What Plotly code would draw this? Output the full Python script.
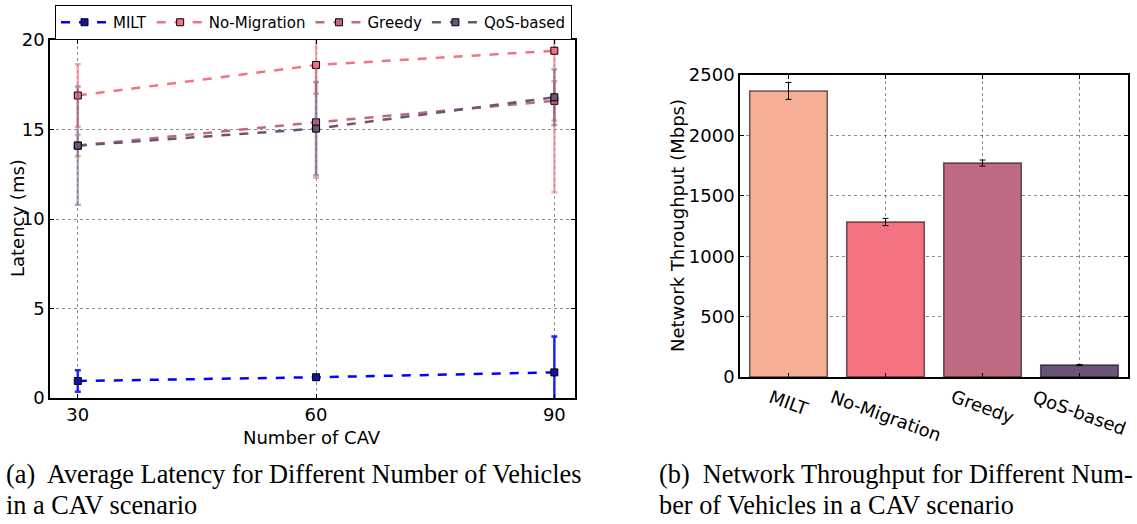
import plotly.graph_objects as go

# ---------------- data ----------------
vehicles = [30, 60, 90]
series_names = ["MILT", "No-Migration", "Greedy", "QoS-based"]

lat_milt = [0.95, 1.16, 1.43]
lat_milt_err = [0.6, 0.1, 2.0]
lat_nomig = [16.9, 18.6, 19.4]
lat_nomig_err = [1.75, 1.6, 7.9]
lat_greedy = [14.1, 15.4, 16.6]
lat_greedy_err = [0.6, 3.1, 1.1]
lat_qos = [14.1, 15.05, 16.8]
lat_qos_err = [3.3, 2.6, 1.55]

thr_values = [2368, 1283, 1771, 99]
thr_err = [70, 30, 25, 5]

latency_ticks = [0, 5, 10, 15, 20]
throughput_ticks = [0, 500, 1000, 1500, 2000, 2500]

latency = [lat_milt, lat_nomig, lat_greedy, lat_qos]
latency_err = [lat_milt_err, lat_nomig_err, lat_greedy_err, lat_qos_err]

line_colors = ["rgb(0,0,255)", "rgb(244,114,129)", "rgb(192,106,129)", "rgb(106,84,121)"]
err_colors = ["rgba(0,0,255,0.85)", "rgba(244,114,129,0.6)", "rgba(192,106,129,0.5)", "rgba(106,84,121,0.5)"]
marker_colors = ["rgb(20,20,160)", "rgb(244,114,129)", "rgb(192,106,129)", "rgb(106,84,121)"]
bar_colors = ["#F6AF94", "#F47281", "#C06A81", "#6A5479"]

FONT = "DejaVu Sans"
FS = 18
W, H = 1137, 524
fig = go.Figure()

for name, ys, es, lc, ec, mc in zip(series_names, latency, latency_err, line_colors, err_colors, marker_colors):
    fig.add_trace(go.Scatter(
        x=vehicles, y=ys, name=name, mode="lines+markers",
        line=dict(color=lc, width=2.5, dash="dash"),
        marker=dict(symbol="square", size=7, color=mc, line=dict(color="black", width=1)),
        error_y=dict(type="data", array=es, color=ec, thickness=2.5, width=3),
        xaxis="x", yaxis="y",
    ))

fig.add_trace(go.Bar(
    x=series_names, y=thr_values, width=0.8, showlegend=False,
    marker=dict(color=bar_colors, line=dict(color="rgba(0,0,0,0.6)", width=1.5)),
    error_y=dict(type="data", array=thr_err, color="black", thickness=1, width=3),
    xaxis="x2", yaxis="y2",
))

# rotated category labels for the bar chart
for cat in series_names:
    fig.add_annotation(x=cat, y=0, xref="x2", yref="y2", text=cat, showarrow=False,
                       textangle=20, xanchor="center", yanchor="top", yshift=-6,
                       font=dict(family=FONT, size=FS, color="black"))

axis_common = dict(showline=True, linecolor="black", linewidth=1.5, mirror="ticks",
                   ticks="inside", ticklen=4, tickcolor="black", automargin=False,
                   showgrid=True, griddash="dot", gridcolor="rgba(0,0,0,0.45)", gridwidth=1,
                   zeroline=False, tickfont=dict(family=FONT, size=FS, color="black"))

fig.update_layout(
    template="none",
    width=W, height=H, margin=dict(l=0, r=0, t=0, b=0, autoexpand=False),
    paper_bgcolor="white", plot_bgcolor="white",
    font=dict(family=FONT, color="black"),
    xaxis=dict(domain=[50 / W, 575 / W], range=[26.5, 92.6], tickvals=vehicles, **axis_common),
    yaxis=dict(domain=[1 - 398 / H, 1 - 40 / H], range=[0, 20], tickvals=latency_ticks, **axis_common),
    xaxis2=dict(domain=[740 / W, 1128 / W], range=[-0.5, 3.5], showticklabels=False,
                anchor="y2", **axis_common),
    yaxis2=dict(domain=[1 - 377 / H, 1 - 75 / H], range=[0, 2500],
                tickvals=throughput_ticks, anchor="x2", **axis_common),
    legend=dict(orientation="h", x=55 / W, y=1 - 5 / H, xanchor="left", yanchor="top",
                bordercolor="black", borderwidth=1, bgcolor="white",
                font=dict(family=FONT, size=15), itemwidth=47),
    bargap=0.2,
)

# axis titles
AX = dict(family=FONT, size=FS, color="black")
fig.add_annotation(x=312 / W, y=1 - 437 / H, xref="paper", yref="paper", text="Number of CAV",
                   showarrow=False, xanchor="center", yanchor="middle", font=AX)
fig.add_annotation(x=18 / W, y=1 - 218 / H, xref="paper", yref="paper", text="Latency (ms)",
                   showarrow=False, textangle=-90, xanchor="center", yanchor="middle", font=AX)
fig.add_annotation(x=677 / W, y=1 - 226 / H, xref="paper", yref="paper", text="Network Throughput (Mbps)",
                   showarrow=False, textangle=-90, xanchor="center", yanchor="middle", font=AX)

# captions
CAP = dict(family="Liberation Serif", size=26.3, color="black")
captions = [
    (4, 474, "(a)&nbsp; Average Latency for Different Number of Vehicles"),
    (4, 505, "in a CAV scenario"),
    (657, 474, "(b)&nbsp; Network Throughput for Different Num-"),
    (657, 505, "ber of Vehicles in a CAV scenario"),
]
for cx, cy, txt in captions:
    fig.add_annotation(x=cx / W, y=1 - cy / H, xref="paper", yref="paper", xanchor="left",
                       yanchor="middle", align="left", showarrow=False, font=CAP, text=txt)

fig.write_html("out.html", config={"displayModeBar": False},
               post_script="document.body.style.margin='0px';")
